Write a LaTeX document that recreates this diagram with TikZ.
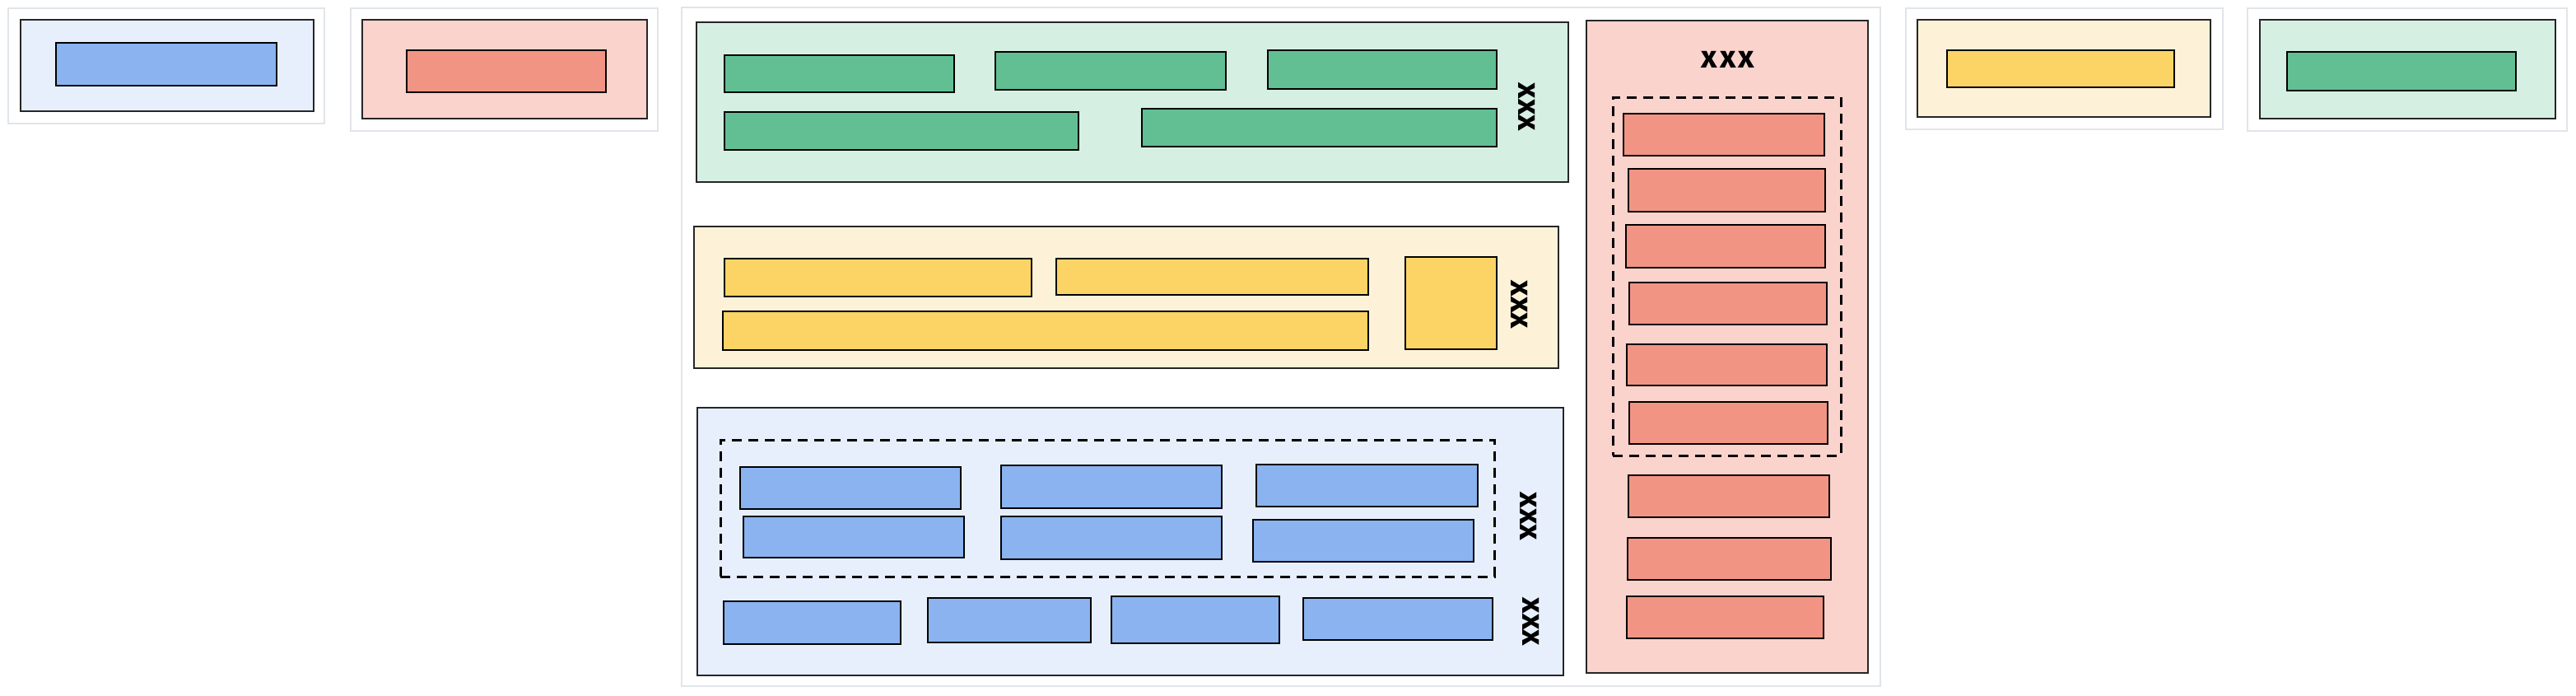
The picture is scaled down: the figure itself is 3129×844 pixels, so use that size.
\documentclass[tikz,border=0pt]{standalone}
\usepackage{fontspec}
\setsansfont{Fira Sans}
\usetikzlibrary{positioning}
\definecolor{framegray}{HTML}{E1E5EA}
\definecolor{blueL}{HTML}{E7EFFC}
\definecolor{blueD}{HTML}{8AB3F0}
\definecolor{redL}{HTML}{FAD3CD}
\definecolor{redD}{HTML}{F29484}
\definecolor{greenL}{HTML}{D6EFE3}
\definecolor{greenD}{HTML}{62BF93}
\definecolor{yellowL}{HTML}{FDF2D8}
\definecolor{yellowD}{HTML}{FCD466}
\tikzset{
  base/.style={rectangle, inner sep=0pt, outer sep=0pt},
  frame/.style={base, draw=framegray, line width=2pt},
  outerbox/.style={base, draw=black!85, line width=2pt},
  innerbox/.style={base, draw=black, line width=2pt},
  dashbox/.style={base, draw=black, line width=3pt, dash pattern=on 12pt off 8pt},
  xlab/.style={font=\sffamily\bfseries\fontsize{38}{38}\selectfont, inner sep=0pt},
}
\newcommand{\mkbox}[6]{\node[#2, minimum width={#5-#3}, minimum height={#6-#4}] (#1) at ({(#3+#5)/2},{(#4+#6)/2}) {};}
\begin{document}
\begin{tikzpicture}[x=1pt,y=-1pt]
\useasboundingbox[fill=white] (0,0) rectangle (3129,844);
% frames
\mkbox{F1}{frame}{10}{10}{394}{150}
\mkbox{F2}{frame}{426}{10}{799}{159}
\mkbox{F3}{frame}{828}{9}{2284}{833}
\mkbox{F4}{frame}{2315}{10}{2700}{157}
\mkbox{F5}{frame}{2730}{10}{3118}{159}
% outer boxes
\mkbox{O1}{outerbox, fill=blueL}{25}{24}{381}{135}
\mkbox{O2}{outerbox, fill=redL}{440}{24}{786}{144}
\mkbox{O3}{outerbox, fill=yellowL}{2329}{24}{2685}{142}
\mkbox{O4}{outerbox, fill=greenL}{2745}{24}{3104}{144}
\mkbox{G}{outerbox, fill=greenL}{846}{27}{1905}{221}
\mkbox{Y}{outerbox, fill=yellowL}{843}{275}{1893}{447}
\mkbox{B}{outerbox, fill=blueL}{847}{495}{1899}{820}
\mkbox{R}{outerbox, fill=redL}{1927}{25}{2269}{817}
% dashed groups
\mkbox{DB}{dashbox}{875}{534}{1815}{700}
\mkbox{DR}{dashbox}{1959}{118}{2236}{553}
% inner boxes
\mkbox{I1}{innerbox, fill=blueD}{68}{52}{336}{104}
\mkbox{I2}{innerbox, fill=redD}{494}{61}{736}{112}
\mkbox{I3}{innerbox, fill=yellowD}{2365}{61}{2641}{106}
\mkbox{I4}{innerbox, fill=greenD}{2778}{63}{3056}{110}
% green panel
\mkbox{g1}{innerbox, fill=greenD}{880}{67}{1159}{112}
\mkbox{g2}{innerbox, fill=greenD}{1209}{63}{1489}{109}
\mkbox{g3}{innerbox, fill=greenD}{1540}{61}{1818}{108}
\mkbox{g4}{innerbox, fill=greenD}{880}{136}{1310}{182}
\mkbox{g5}{innerbox, fill=greenD}{1387}{132}{1818}{178}
% yellow panel
\mkbox{y1}{innerbox, fill=yellowD}{880}{314}{1253}{360}
\mkbox{y2}{innerbox, fill=yellowD}{1283}{314}{1662}{358}
\mkbox{y3}{innerbox, fill=yellowD}{878}{378}{1662}{425}
\mkbox{y4}{innerbox, fill=yellowD}{1707}{312}{1818}{424}
% blue panel
\mkbox{b1}{innerbox, fill=blueD}{899}{567}{1167}{618}
\mkbox{b2}{innerbox, fill=blueD}{1216}{565}{1484}{617}
\mkbox{b3}{innerbox, fill=blueD}{1526}{564}{1795}{615}
\mkbox{b4}{innerbox, fill=blueD}{903}{627}{1171}{677}
\mkbox{b5}{innerbox, fill=blueD}{1216}{627}{1484}{679}
\mkbox{b6}{innerbox, fill=blueD}{1522}{631}{1790}{682}
\mkbox{c1}{innerbox, fill=blueD}{879}{730}{1094}{782}
\mkbox{c2}{innerbox, fill=blueD}{1127}{726}{1325}{780}
\mkbox{c3}{innerbox, fill=blueD}{1350}{724}{1554}{781}
\mkbox{c4}{innerbox, fill=blueD}{1583}{726}{1813}{777}
% red panel
\mkbox{r1}{innerbox, fill=redD}{1972}{138}{2216}{189}
\mkbox{r2}{innerbox, fill=redD}{1978}{205}{2217}{257}
\mkbox{r3}{innerbox, fill=redD}{1975}{273}{2217}{325}
\mkbox{r4}{innerbox, fill=redD}{1979}{343}{2219}{394}
\mkbox{r5}{innerbox, fill=redD}{1976}{418}{2219}{468}
\mkbox{r6}{innerbox, fill=redD}{1979}{488}{2220}{539}
\mkbox{r7}{innerbox, fill=redD}{1978}{577}{2222}{628}
\mkbox{r8}{innerbox, fill=redD}{1977}{653}{2224}{704}
\mkbox{r9}{innerbox, fill=redD}{1976}{724}{2215}{775}
% labels
\node[xlab, rotate=-90] (xG) at (1855,130) {xxx};
\node[xlab, rotate=-90] (xY) at (1846,370) {xxx};
\node[xlab, rotate=-90] (xB1) at (1857,627) {xxx};
\node[xlab, rotate=-90] (xB2) at (1860,755) {xxx};
\node[xlab] (xR) at (2099,72) {x\kern3pt x\kern3pt x};
\end{tikzpicture}
\end{document}
